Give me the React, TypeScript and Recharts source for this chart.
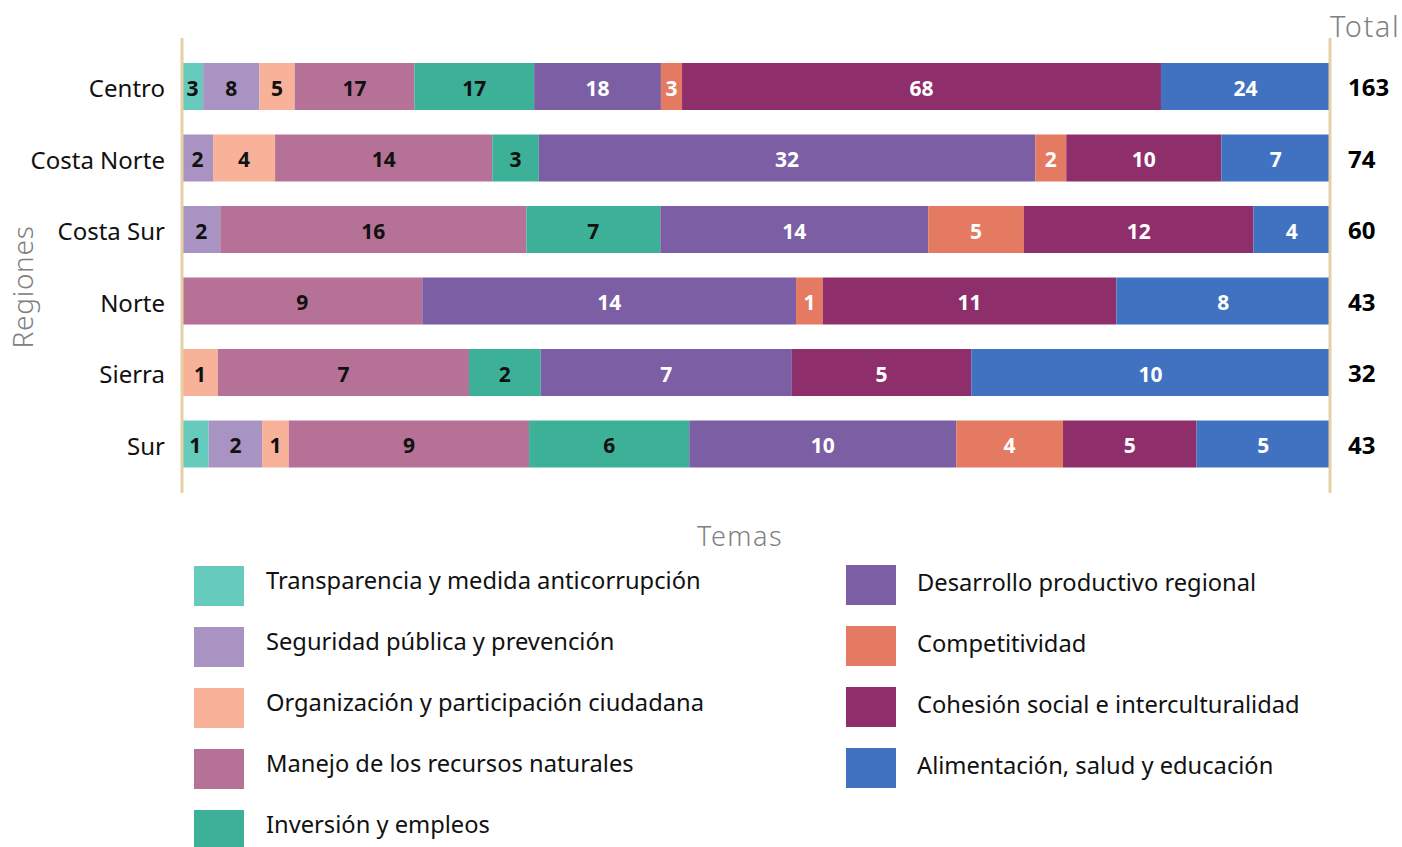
import { Bar, BarChart, LabelList, Legend, XAxis, YAxis } from "recharts";

const regions = ["Centro", "Costa Norte", "Costa Sur", "Norte", "Sierra", "Sur"];

const transparencia = [3, 0, 0, 0, 0, 1];
const seguridad = [8, 2, 2, 0, 0, 2];
const organizacion = [5, 4, 0, 0, 1, 1];
const manejo = [17, 14, 16, 9, 7, 9];
const inversion = [17, 3, 7, 0, 2, 6];
const desarrollo = [18, 32, 14, 14, 7, 10];
const competitividad = [3, 2, 5, 1, 0, 4];
const cohesion = [68, 10, 12, 11, 5, 5];
const alimentacion = [24, 7, 4, 8, 10, 5];

const temas = [
  { key: "transparencia", name: "Transparencia y medida anticorrupción", color: "#66cbbd", text: "#111", values: transparencia },
  { key: "seguridad", name: "Seguridad pública y prevención", color: "#a993c3", text: "#111", values: seguridad },
  { key: "organizacion", name: "Organización y participación ciudadana", color: "#f7b299", text: "#111", values: organizacion },
  { key: "manejo", name: "Manejo de los recursos naturales", color: "#b57196", text: "#111", values: manejo },
  { key: "inversion", name: "Inversión y empleos", color: "#3cb198", text: "#111", values: inversion },
  { key: "desarrollo", name: "Desarrollo productivo regional", color: "#7b5ea4", text: "#fff", values: desarrollo },
  { key: "competitividad", name: "Competitividad", color: "#e47a62", text: "#fff", values: competitividad },
  { key: "cohesion", name: "Cohesión social e interculturalidad", color: "#8e2f6b", text: "#fff", values: cohesion },
  { key: "alimentacion", name: "Alimentación, salud y educación", color: "#4072c1", text: "#fff", values: alimentacion },
];

const data = regions.map((region, i) => {
  const row: { [k: string]: string | number } = { region };
  temas.forEach((t) => {
    row[t.key] = t.values[i];
  });
  return row;
});

const totals = regions.map((_, i) => temas.reduce((s, t) => s + t.values[i], 0));

const gray = "#808080";
const tan = "#e6d0a6";

const renderLegend = () => (
  <div style={{ position: "relative", width: 1402, height: 327 }}>
    <div
      style={{
        position: "absolute",
        left: 740,
        top: 2,
        transform: "translateX(-50%)",
        fontSize: 27,
        lineHeight: "27px",
        letterSpacing: 1.5,
        color: gray,
        fontWeight: 300,
      }}
    >
      Temas
    </div>
    {temas.map((t, i) => {
      const col = i < 5 ? 0 : 1;
      const row = i < 5 ? i : i - 5;
      return (
        <div
          key={t.key}
          style={{
            position: "absolute",
            left: col === 0 ? 194 : 846,
            top: 46 - col + row * 61,
            display: "flex",
            alignItems: "center",
            whiteSpace: "nowrap",
          }}
        >
          <div style={{ width: 50, height: 40, background: t.color }} />
          <span
            style={{
              marginLeft: col === 0 ? 22 : 21,
              fontSize: 23.7,
              lineHeight: "24px",
              color: "#111",
              position: "relative",
              top: col === 0 ? -6 : -3,
            }}
          >
            {t.name}
          </span>
        </div>
      );
    })}
  </div>
);

export default function App() {
  return (
    <div style={{ position: "absolute", left: 0, top: 0, fontFamily: "'Noto Sans', sans-serif" }}>
      <BarChart
        width={1402}
        height={847}
        data={data}
        layout="vertical"
        stackOffset="expand"
        margin={{ top: 38, right: 0, bottom: 354, left: 0 }}
        style={{ fontFamily: "'Noto Sans', sans-serif" }}
      >
        <XAxis type="number" hide domain={[0, 1]} />
        <YAxis
          type="category"
          dataKey="region"
          width={182}
          tickSize={0}
          tickMargin={17}
          tickLine={false}
          axisLine={{ stroke: tan, strokeWidth: 3 }}
          padding={{ top: 13, bottom: 13 }}
          tick={{ fill: "#111", fontSize: 24, dy: 2 }}
        />
        <YAxis
          yAxisId="right"
          orientation="right"
          type="category"
          dataKey="region"
          width={72}
          tickSize={0}
          tickMargin={18}
          tickLine={false}
          axisLine={{ stroke: tan, strokeWidth: 3 }}
          padding={{ top: 13, bottom: 13 }}
          tick={{ fill: "#000", fontSize: 24, fontWeight: 700, textAnchor: "start", dy: 1 }}
          tickFormatter={(r: string) => String(totals[regions.indexOf(r)])}
        />
        {temas.map((t) => (
          <Bar key={t.key} dataKey={t.key} name={t.name} stackId="a" fill={t.color} barSize={47} isAnimationActive={false}>
            <LabelList
              dataKey={t.key}
              position="center"
              fill={t.text}
              fontSize={21}
              fontWeight={700}
              dy={2}
              formatter={(v: number) => (v ? v : "")}
            />
          </Bar>
        ))}
        <Legend
          layout="horizontal"
          verticalAlign="middle"
          align="center"
          wrapperStyle={{ top: 520, left: 0, width: 1402, height: 327 }}
          content={renderLegend}
        />
        <text
          x={22}
          y={287}
          transform="rotate(-90, 22, 287)"
          textAnchor="middle"
          dominantBaseline="central"
          fontSize={28}
          letterSpacing={0.7}
          fill={gray}
          fontWeight={300}
        >
          Regiones
        </text>
        <text x={1330} y={25} dominantBaseline="central" fontSize={29} letterSpacing={1.5} fill={gray} fontWeight={300}>
          Total
        </text>
      </BarChart>
    </div>
  );
}
